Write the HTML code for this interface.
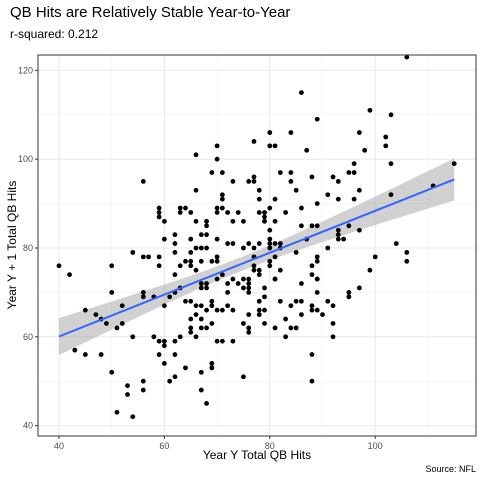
<!DOCTYPE html>
<html><head><meta charset="utf-8"><style>
body{margin:0;background:#fff;}
svg{display:block;font-family:"Liberation Sans",sans-serif;}
</style></head><body>
<svg id="chart" width="480" height="480">
<text x="10" y="17" font-size="15" fill="#000">QB Hits are Relatively Stable Year-to-Year</text>
<text x="10" y="38" font-size="12" fill="#000">r-squared: 0.212</text>
<g id="grid"></g>
<g id="band"></g>
<g id="pts"></g>
<g id="fit"></g>
<rect x="38" y="55" width="438" height="381" fill="none" stroke="#333" stroke-width="1"/>
<g id="axes"></g>
<text x="257" y="459" font-size="12" text-anchor="middle">Year Y Total QB Hits</text>
<text x="0" y="0" font-size="12" text-anchor="middle" transform="translate(16,245) rotate(-90)">Year Y + 1 Total QB Hits</text>
<text x="476" y="472" font-size="9" text-anchor="end">Source: NFL</text>
</svg>
<script>
const xTicks=[40,60,80,100];
const yTicks=[40,60,80,100,120];
const xMinor=[50,70,90,110];
const yMinor=[50,70,90,110];
const xs=[40,42,50,54,56,57,59,59,62,62,62,63,64,50,45,47,48,49,52,51,52,56,56,58,60,61,62,63,64,43,45,48,54,58,59,60,60,62,63,59,62,60,64,50,53,53,56,56,61,62,51,54,
70,66,70,69,71,56,73,76,66,71,71,59,59,59,63,64,63,65,70,71,70,72,74,60,66,68,68,73,75,67,68,62,60,65,70,66,67,68,72,73,75,76,65,65,65,67,69,70,70,66,71,70,73,75,76,
72,74,76,75,76,76,72,79,67,68,67,68,81,86,89,79,89,65,66,67,69,69,68,70,71,72,73,78,78,78,79,76,79,75,76,76,65,66,67,69,65,65,67,68,66,70,71,73,67,69,69,75,67,68,81,83,84,85,83,82,84,85,86,86,88,88,89,90,88,88,
86,89,80,84,77,80,81,87,97,98,82,84,84,77,77,88,78,85,78,81,92,93,91,93,95,96,96,97,96,78,79,79,79,80,81,83,86,89,86,88,89,80,80,80,80,81,82,82,78,87,85,91,93,93,93,94,95,97,77,77,77,77,78,78,80,80,81,82,81,88,89,89,88,89,
106,99,103,102,102,103,115,111,103,104,106,106,100,99,97,95,95,91,92,92,92];
const ys=[76,74,76,79,78,78,78,76,81,79,74,76,77,70,66,65,64,63,67,62,63,70,69,69,67,69,70,71,68,57,56,56,60,60,59,59,58,59,60,56,56,54,53,52,49,47,50,48,50,51,43,42,
103,101,100,97,97,95,95,95,93,92,91,89,88,87,89,89,88,88,89,89,88,88,88,86,86,86,85,86,86,83,83,83,82,82,82,80,80,80,81,81,80,81,79,77,76,77,77,78,77,75,74,73,73,73,73,
72,72,72,71,71,70,70,71,72,72,71,71,73,72,73,69,70,68,67,67,68,67,66,66,66,67,66,68,66,65,66,65,63,63,62,61,64,65,64,63,62,61,62,62,60,59,59,59,52,54,53,51,48,45,62,64,62,62,60,68,67,68,68,65,67,66,66,65,56,50,
115,109,106,106,104,103,103,102,106,102,97,97,95,96,95,96,93,93,91,91,96,95,92,91,97,97,99,93,91,88,88,87,86,89,86,88,89,90,85,85,85,84,82,81,80,81,81,80,81,82,79,80,84,83,82,82,85,84,80,78,76,75,75,74,77,76,78,75,73,76,78,77,74,73,
123,111,110,105,103,99,99,94,92,81,79,77,78,75,71,70,69,68,67,63,60];
const NS='http://www.w3.org/2000/svg';
const X=v=>59+(v-40)*5.27;
const Y=v=>248-(v-80)*4.44;
function mk(tag,attrs,parent){const e=document.createElementNS(NS,tag);for(const k in attrs)e.setAttribute(k,attrs[k]);parent.appendChild(e);return e;}
const grid=document.getElementById('grid');
mk('rect',{x:38,y:55,width:438,height:381,fill:'#fff'},grid);
xMinor.forEach(v=>{const l=mk('line',{x1:X(v),x2:X(v),y1:55,y2:436,stroke:'#f2f2f2','stroke-width':0.6},grid);

});
yMinor.forEach(v=>{const l=mk('line',{x1:38,x2:476,y1:Y(v),y2:Y(v),stroke:'#f2f2f2','stroke-width':0.6},grid);

});
xTicks.forEach(v=>{const l=mk('line',{x1:X(v),x2:X(v),y1:55,y2:436,stroke:'#ebebeb','stroke-width':1.1},grid);

});
yTicks.forEach(v=>{const l=mk('line',{x1:38,x2:476,y1:Y(v),y2:Y(v),stroke:'#ebebeb','stroke-width':1.1},grid);

});
const axes=document.getElementById('axes');
xTicks.forEach(v=>{mk('line',{x1:X(v),x2:X(v),y1:436,y2:439,stroke:'#333'},axes);
const t=mk('text',{x:X(v),y:449,'font-size':9,fill:'#4d4d4d','text-anchor':'middle'},axes);t.textContent=v;

});
yTicks.forEach(v=>{mk('line',{x1:35,x2:38,y1:Y(v),y2:Y(v),stroke:'#333'},axes);
const t=mk('text',{x:33,y:Y(v)+3,'font-size':9,fill:'#4d4d4d','text-anchor':'end'},axes);t.textContent=v;

});
// regression
const n=xs.length;const mx=xs.reduce((a,b)=>a+b,0)/n;const my=ys.reduce((a,b)=>a+b,0)/n;
let sxx=0,sxy=0;for(let i=0;i<n;i++){sxx+=(xs[i]-mx)**2;sxy+=(xs[i]-mx)*(ys[i]-my);}
const b1=sxy/sxx,b0=my-b1*mx;let sse=0;for(let i=0;i<n;i++)sse+=(ys[i]-b0-b1*xs[i])**2;
const s=Math.sqrt(sse/(n-2));
const xmin=Math.min(...xs),xmax=Math.max(...xs);
let up=[],lo=[];for(let k=0;k<=80;k++){const x=xmin+(xmax-xmin)*k/80;const f=b0+b1*x;const se=1.97*s*Math.sqrt(1/n+(x-mx)**2/sxx);
up.push(X(x)+','+Y(f+se));lo.unshift(X(x)+','+Y(f-se));}
const band=mk('polygon',{points:up.concat(lo).join(' '),fill:'#999',opacity:0.45},document.getElementById('band'));


const pg=document.getElementById('pts');
for(let i=0;i<n;i++){const c=mk('circle',{cx:X(xs[i]),cy:Y(ys[i]),r:2.4,fill:'#000'},pg);

}
const ln=mk('line',{x1:X(xmin),y1:Y(b0+b1*xmin),x2:X(xmax),y2:Y(b0+b1*xmax),stroke:'#3366FF','stroke-width':2},document.getElementById('fit'));


</script>
</body></html>
